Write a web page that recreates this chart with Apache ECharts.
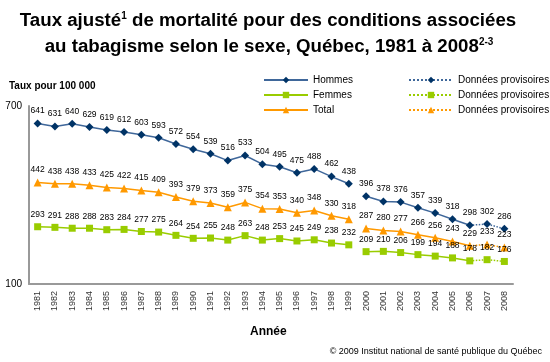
<!DOCTYPE html>
<html><head><meta charset="utf-8">
<script src="https://cdn.jsdelivr.net/npm/echarts@6/dist/echarts.min.js"></script>
<style>html,body{margin:0;padding:0;background:#fff}#c{width:550px;height:362px}</style>
</head><body><div id="c"></div>
<script>
const years = ['1981','1982','1983','1984','1985','1986','1987','1988','1989','1990','1991','1992','1993','1994','1995','1996','1997','1998','1999','2000','2001','2002','2003','2004','2005','2006','2007','2008'];
const hommes = [641,631,640,629,619,612,603,593,572,554,539,516,533,504,495,475,488,462,438,396,378,376,357,339,318,298,302,286];
const femmes = [293,291,288,288,283,284,277,275,264,254,255,248,263,248,253,245,249,238,232,209,210,206,199,194,188,178,182,176];
const total  = [442,438,438,433,425,422,415,409,393,379,373,359,375,354,353,340,348,330,318,287,280,277,266,256,243,229,233,223];
const yTicks = [100, 700];

const breakIdx = 19;   // 2000: new series start (break after 1999)
const provIdx = 25;    // 2006: provisional segment start

function seg(arr, from, to){ return arr.map((v,i)=> (i>=from && i<=to) ? v : null); }

const defs = [
  {name:'Hommes', data:hommes, color:'#003366', line:'#3f679a', symbol:'diamond', size:8, prov:'Données provisoires '},
  {name:'Femmes', data:femmes, color:'#99cc00', line:'#99cc00', symbol:'rect', size:7, prov:'Données provisoires  '},
  {name:'Total', data:total, color:'#ff9900', line:'#ff9900', symbol:'triangle', size:8, prov:'Données provisoires   '}
];
const label = {show:true, position:'top', distance:4, fontSize:8.5, color:'#000', fontFamily:'Liberation Sans, Arial'};
const series = [];
defs.forEach(d=>{
  const common = {type:'line', symbol:d.symbol, symbolSize:d.size, itemStyle:{color:d.color}, lineStyle:{color:d.line, width:1.5}, animation:false, connectNulls:false};
  series.push(Object.assign({}, common, {name:d.name, data:seg(d.data,0,breakIdx-1), label:label}));
  series.push(Object.assign({}, common, {name:d.name, data:seg(d.data,breakIdx,provIdx), label:label}));
  series.push(Object.assign({}, common, {name:d.prov, data:seg(d.data,provIdx,27), lineStyle:{color:d.line, width:1.5, type:'dotted'},
    label:Object.assign({}, label, {formatter:p=> p.dataIndex===provIdx ? '' : p.value}),
    symbolSize:(v,p)=> p.dataIndex===provIdx ? 0 : d.size}));
});

const tRich = {t:{fontSize:18.7, fontWeight:'bold', color:'#000', fontFamily:'Liberation Sans, Arial'}, s:{fontSize:10, fontWeight:'bold', color:'#000', fontFamily:'Liberation Sans, Arial', padding:[0,0,10,0]}};
const chart = echarts.init(document.getElementById('c'));
chart.setOption({
  backgroundColor:'#fff',
  textStyle:{fontFamily:'Liberation Sans, Arial'},
  title:[
    {text:'{t|Taux ajusté}{s|1}{t| de mortalité pour des conditions associées}', left:263, textAlign:'center', top:6, textStyle:{rich:tRich}},
    {text:'{t|au tabagisme selon le sexe, Québec, 1981 à 2008}{s|2-3}', left:264, textAlign:'center', top:32, textStyle:{rich:tRich}},
    {text:'Taux pour 100 000', left:4, top:76, textStyle:{fontSize:10, fontWeight:'bold', color:'#000'}},
    {text:'Année', left:245, top:321, textStyle:{fontSize:12, fontWeight:'bold', color:'#000'}},
    {text:'© 2009 Institut national de santé publique du Québec', right:3, top:342, textStyle:{fontSize:9, fontWeight:'normal', color:'#000'}}
  ],
  legend:[
    {data:['Hommes','Femmes','Total'], orient:'vertical', left:258, top:70, itemGap:5, itemWidth:44, itemHeight:8,
     textStyle:{fontSize:10, color:'#000'}},
    {data:['Données provisoires ','Données provisoires  ','Données provisoires   '], orient:'vertical', left:403, top:70, itemGap:5, itemWidth:44, itemHeight:8,
     textStyle:{fontSize:10, color:'#000'}, formatter:n=>n.trim()}
  ],
  grid:{left:29, right:37, top:106, bottom:78},
  xAxis:{type:'category', data:years, boundaryGap:true,
    axisLine:{lineStyle:{color:'#999', width:2}}, axisTick:{show:false},
    axisLabel:{rotate:90, fontSize:9, color:'#333', interval:0, margin:7}},
  yAxis:{type:'value', min:yTicks[0], max:yTicks[1], interval:yTicks[1]-yTicks[0],
    axisLine:{show:true, lineStyle:{color:'#999', width:2}}, axisTick:{show:false}, splitLine:{show:false},
    axisLabel:{fontSize:10, color:'#000', margin:7}},
  series:series
});
</script></body></html>
